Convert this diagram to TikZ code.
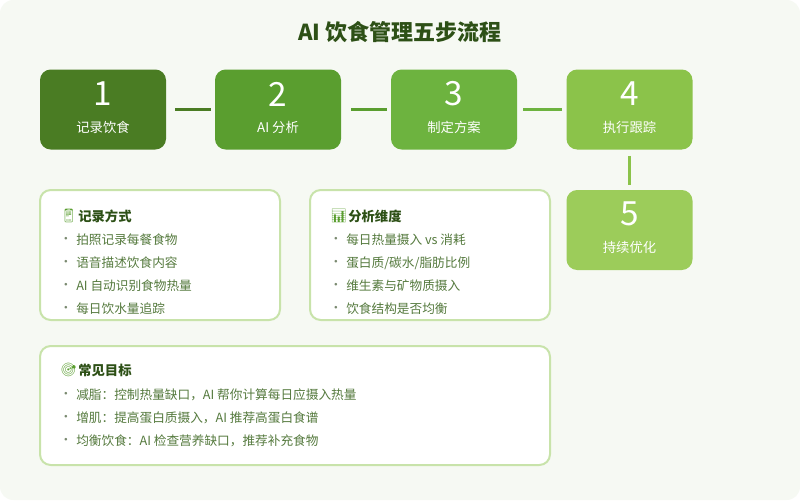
\documentclass[tikz,border=0pt]{standalone}
\usepackage{fontspec}
\setmainfont{Noto Sans CJK SC}
\newfontfamily\emoji{Noto Emoji}
\definecolor{bgc}{HTML}{F6F9F3}
\definecolor{sA}{HTML}{4A7C23}
\definecolor{sB}{HTML}{5A9E2F}
\definecolor{sC}{HTML}{6DB33F}
\definecolor{sD}{HTML}{8BC34A}
\definecolor{sE}{HTML}{9CCC5A}
\definecolor{cardline}{HTML}{C8E3AA}
\definecolor{titlec}{HTML}{2D5016}
\definecolor{itemc}{HTML}{557A3E}
\definecolor{dotc}{HTML}{7A8A70}
\tikzset{
  stepbox/.style={rounded corners=8pt, minimum width=94.5pt, minimum height=60pt, inner sep=0pt},
  numtxt/.style={text=white, font=\fontsize{25}{27}\selectfont, inner sep=0pt},
  labtxt/.style={text=white, font=\fontsize{10}{12}\selectfont, inner sep=0pt},
  link/.style={line width=2.4pt},
  card/.style={draw=cardline, line width=1.5pt, fill=white, rounded corners=8pt},
  cardtitle/.style={text=titlec, font=\fontsize{10}{12}\selectfont\bfseries, anchor=west, inner sep=0pt},
  icon/.style={text=sB, font=\emoji\fontsize{10}{11}\selectfont, anchor=west, inner sep=0pt},
  item/.style={text=itemc, font=\fontsize{9.5}{11}\selectfont, anchor=west, inner sep=0pt},
  dot/.style={text=dotc, font=\fontsize{9.5}{11}\selectfont, inner sep=0pt}
}
\begin{document}
\begin{tikzpicture}[x=0.75pt,y=-0.75pt]
\useasboundingbox (0,0) rectangle (800,500);
\fill[white] (0,0) rectangle (800,500);
\fill[bgc, rounded corners=10pt] (0,0) rectangle (800,500);
\node[text=titlec, font=\fontsize{16.5}{19}\selectfont\bfseries] (title) at (400,32) {AI 饮食管理五步流程};
% steps
\node[stepbox, fill=sA] (s1) at (103,109.5) {};
\node[stepbox, fill=sB] (s2) at (278,109.5) {};
\node[stepbox, fill=sC] (s3) at (454,109.5) {};
\node[stepbox, fill=sD] (s4) at (629.5,109.5) {};
\node[stepbox, fill=sE] (s5) at (629.5,230) {};
\node[numtxt] (n1) at (103,94) {1};
\node[labtxt] (l1) at (103,127) {记录饮食};
\node[numtxt] (n2) at (278,94) {2};
\node[labtxt] (l2) at (278,127) {AI 分析};
\node[numtxt] (n3) at (454,94) {3};
\node[labtxt] (l3) at (454,127) {制定方案};
\node[numtxt] (n4) at (629.5,94) {4};
\node[labtxt] (l4) at (629.5,127) {执行跟踪};
\node[numtxt] (n5) at (629.5,214) {5};
\node[labtxt] (l5) at (629.5,247) {持续优化};
\draw[link, sA] ([xshift=6.75pt]s1.east) -- ([xshift=-3pt]s2.west);
\draw[link, sB] ([xshift=7.5pt]s2.east) -- ([xshift=-3pt]s3.west);
\draw[link, sC] ([xshift=4.5pt]s3.east) -- ([xshift=-3pt]s4.west);
\draw[link, sD, line width=2.2pt] ([yshift=-4.5pt]s4.south) -- ([yshift=3.75pt]s5.north);
% cards
\draw[card] (40,190) rectangle (280,320);
\draw[card] (310,190) rectangle (550,320);
\draw[card] (40,346) rectangle (550,465);
% card 1
\node[icon] (i1) at (60,216) {📱};
\node[cardtitle] (t1) at (78,216) {记录方式};
\node[dot] (d11) at (66,240) {·}; \node[item] (a11) at (76,240) {拍照记录每餐食物};
\node[dot] (d12) at (66,263) {·}; \node[item] (a12) at (76,263) {语音描述饮食内容};
\node[dot] (d13) at (66,286) {·}; \node[item] (a13) at (76,286) {AI 自动识别食物热量};
\node[dot] (d14) at (66,309) {·}; \node[item] (a14) at (76,309) {每日饮水量追踪};
% card 2
\node[icon] (i2) at (330,216) {📊};
\node[cardtitle] (t2) at (348,216) {分析维度};
\node[dot] (d21) at (336,240) {·}; \node[item] (a21) at (346,240) {每日热量摄入 vs 消耗};
\node[dot] (d22) at (336,263) {·}; \node[item] (a22) at (346,263) {蛋白质/碳水/脂肪比例};
\node[dot] (d23) at (336,286) {·}; \node[item] (a23) at (346,286) {维生素与矿物质摄入};
\node[dot] (d24) at (336,309) {·}; \node[item] (a24) at (346,309) {饮食结构是否均衡};
% card 3
\node[icon] (i3) at (60,370) {🎯};
\node[cardtitle] (t3) at (78,370) {常见目标};
\node[dot] (d31) at (66,395) {·}; \node[item] (a31) at (76,395) {减脂：控制热量缺口，AI 帮你计算每日应摄入热量};
\node[dot] (d32) at (66,418) {·}; \node[item] (a32) at (76,418) {增肌：提高蛋白质摄入，AI 推荐高蛋白食谱};
\node[dot] (d33) at (66,441) {·}; \node[item] (a33) at (76,441) {均衡饮食：AI 检查营养缺口，推荐补充食物};
\end{tikzpicture}
\end{document}
